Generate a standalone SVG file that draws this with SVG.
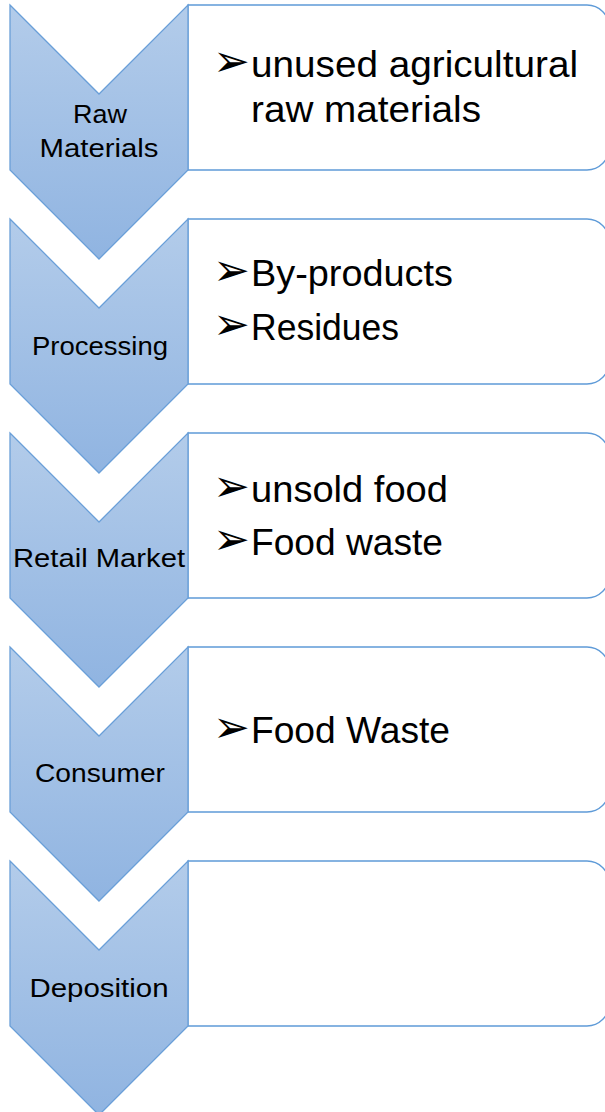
<svg xmlns="http://www.w3.org/2000/svg" width="605" height="1112" viewBox="0 0 605 1112">
<defs>
<linearGradient id="g" x1="0" y1="0" x2="0" y2="1">
<stop offset="0" stop-color="#B3CCEA"/>
<stop offset="1" stop-color="#90B4E1"/>
</linearGradient>
<path id="chev" d="M10,0 L99,89 L188,0 L188,165 L99,254 L10,165 Z"/>
<path id="box" d="M188,0 H587 A22,22 0 0 1 609,22 V143 A22,22 0 0 1 587,165 H188 Z"/>
</defs>
<style>
.chev{fill:url(#g);stroke:#6A9FD8;stroke-width:1.3}
.box{fill:#fff;stroke:#5F9BD8;stroke-width:1.3}
.lbl{font-family:"Liberation Sans",Arial,sans-serif;font-size:26px;fill:#000;text-anchor:middle}
.itm{font-family:"Liberation Sans",Arial,sans-serif;font-size:37px;fill:#000}
.bul{font-family:"DejaVu Sans",sans-serif;font-size:44px;fill:#000}
</style>
<rect width="605" height="1112" fill="#fff"/>
<g id="connectors"></g>
<g id="node1" transform="translate(0,5)">
<use href="#box" class="box"/>
<use href="#chev" class="chev"/>
<text class="lbl" x="100" y="118" textLength="54" lengthAdjust="spacingAndGlyphs">Raw</text>
<text class="lbl" x="99" y="152" textLength="119" lengthAdjust="spacingAndGlyphs">Materials</text>
<text class="bul" x="213" y="71">➢</text>
<text class="itm" x="251" y="72" textLength="327" lengthAdjust="spacingAndGlyphs">unused agricultural</text>
<text class="itm" x="251" y="117" textLength="230" lengthAdjust="spacingAndGlyphs">raw materials</text>
</g>
<g id="node2" transform="translate(0,219)">
<use href="#box" class="box"/>
<use href="#chev" class="chev"/>
<text class="lbl" x="100" y="136" textLength="136" lengthAdjust="spacingAndGlyphs">Processing</text>
<text class="bul" x="213" y="66">➢</text>
<text class="itm" x="251" y="67" textLength="202" lengthAdjust="spacingAndGlyphs">By-products</text>
<text class="bul" x="213" y="120">➢</text>
<text class="itm" x="251" y="121" textLength="148" lengthAdjust="spacingAndGlyphs">Residues</text>
</g>
<g id="node3" transform="translate(0,433)">
<use href="#box" class="box"/>
<use href="#chev" class="chev"/>
<text class="lbl" x="99" y="134" textLength="172" lengthAdjust="spacingAndGlyphs">Retail Market</text>
<text class="bul" x="213" y="68">➢</text>
<text class="itm" x="251" y="69" textLength="197" lengthAdjust="spacingAndGlyphs">unsold food</text>
<text class="bul" x="213" y="121">➢</text>
<text class="itm" x="251" y="122" textLength="192" lengthAdjust="spacingAndGlyphs">Food waste</text>
</g>
<g id="node4" transform="translate(0,647)">
<use href="#box" class="box"/>
<use href="#chev" class="chev"/>
<text class="lbl" x="100" y="135" textLength="130" lengthAdjust="spacingAndGlyphs">Consumer</text>
<text class="bul" x="213" y="95">➢</text>
<text class="itm" x="251" y="96" textLength="199" lengthAdjust="spacingAndGlyphs">Food Waste</text>
</g>
<g id="node5" transform="translate(0,861)">
<use href="#box" class="box"/>
<use href="#chev" class="chev"/>
<text class="lbl" x="99" y="136" textLength="139" lengthAdjust="spacingAndGlyphs">Deposition</text>
</g>
</svg>
